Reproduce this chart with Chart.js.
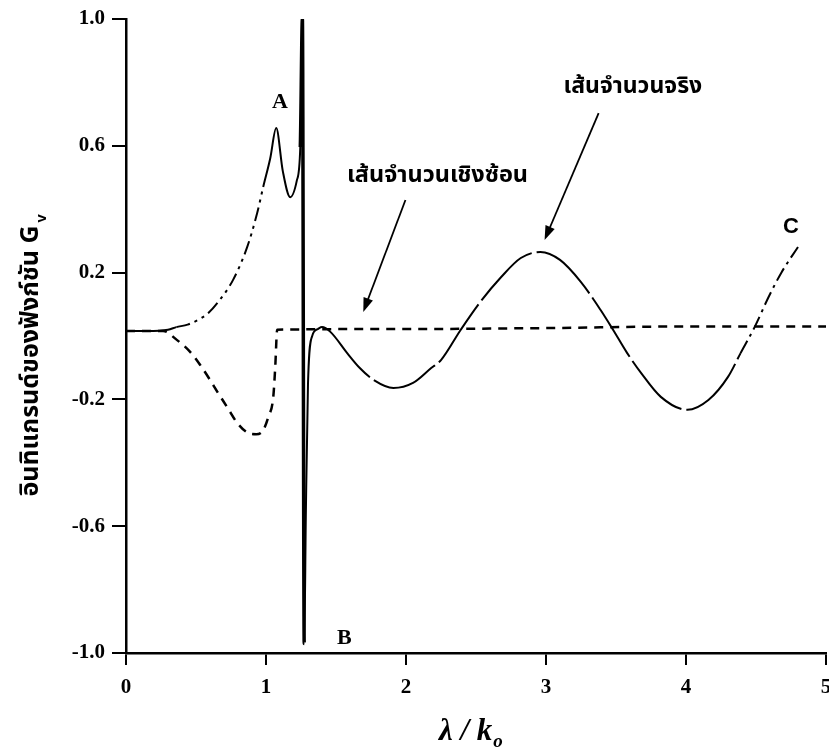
<!DOCTYPE html>
<html>
<head>
<meta charset="utf-8">
<script src="https://cdn.jsdelivr.net/npm/chart.js@4.4.1/dist/chart.umd.min.js"></script>
<style>
  html, body { margin: 0; padding: 0; background: #fff; }
  #wrap { width: 829px; height: 751px; }
</style>
</head>
<body>
<div id="wrap"><canvas id="myChart" width="829" height="751"></canvas></div>
<script>
// ---- data ----
const realX = [0, 0.15, 0.30, 0.36, 0.44, 0.52, 0.59, 0.67, 0.765, 0.866, 0.937, 0.98, 1.03, 1.073, 1.12, 1.173, 1.22, 1.245, 1.26, 1.273, 1.285, 1.30, 1.33, 1.37, 1.40, 1.46, 1.58, 1.67, 1.77, 1.91, 2.05, 2.18, 2.25, 2.39, 2.53, 2.68, 2.82, 2.96, 3.10, 3.25, 3.39, 3.48, 3.58, 3.68, 3.82, 4.01, 4.16, 4.30, 4.39, 4.49, 4.59, 4.68, 4.80];
const realY = [0.016, 0.016, 0.02, 0.028, 0.036, 0.052, 0.073, 0.114, 0.177, 0.281, 0.388, 0.47, 0.56, 0.656, 0.52, 0.438, 0.49, 0.596, 1.0, -0.97, -0.55, -0.15, 0.0, 0.022, 0.028, 0.013, -0.054, -0.101, -0.139, -0.164, -0.148, -0.101, -0.076, 0.019, 0.107, 0.186, 0.246, 0.265, 0.24, 0.17, 0.082, 0.019, -0.054, -0.117, -0.192, -0.233, -0.202, -0.129, -0.054, 0.028, 0.123, 0.199, 0.281];

const imagX = [0, 0.265, 0.365, 0.458, 0.529, 0.601, 0.658, 0.722, 0.794, 0.873, 0.93, 0.98, 1.016, 1.052, 1.066, 1.08, 2.0, 3.0, 4.0, 5.0];
const imagY = [0.016, 0.016, -0.013, -0.05, -0.091, -0.139, -0.18, -0.224, -0.274, -0.306, -0.31, -0.297, -0.256, -0.192, -0.098, 0.02, 0.022, 0.025, 0.03, 0.03];

const xTicks = [0, 1, 2, 3, 4, 5];
const yTicks = [-1.0, -0.6, -0.2, 0.2, 0.6, 1.0];

const realLabel = 'เส้นจำนวนจริง';
const imagLabel = 'เส้นจำนวนเชิงซ้อน';
const yTitle = 'อินทิแกรนด์ของฟังก์ชัน G';

const thaiFont = '"Noto Sans Thai", "Noto Sans", sans-serif';

// text + arrows, placed in data units
const notes = [
  { text: 'A', x: 1.10, y: 0.738, font: 'bold 22px "Liberation Serif", serif' },
  { text: 'B', x: 1.56, y: -0.953, font: 'bold 22px "Liberation Serif", serif' },
  { text: 'C', x: 4.75, y: 0.344, font: 'bold 22px "Liberation Sans", sans-serif' },
  { text: realLabel, x: 3.62, y: 0.782, font: 'bold 23px ' + thaiFont },
  { text: imagLabel, x: 2.225, y: 0.502, font: 'bold 23.5px ' + thaiFont }
];
const arrows = [
  { x0: 3.376, y0: 0.703, x1: 2.99, y1: 0.303 },
  { x0: 1.996, y0: 0.429, x1: 1.695, y1: 0.076 }
];

function toPoints(xs, ys) {
  return xs.map(function (x, i) { return { x: x, y: ys[i] }; });
}

// real curve: dash-dot on the rising parts, thick on the spike
function realDash(ctx) {
  const a = ctx.p0.parsed.x;
  if (a >= 0.33 && a < 0.98) return [14, 5, 3, 5, 3, 5];
  if (a >= 4.35) return [14, 5, 3, 5];
  if (a >= 1.40 && a < 4.35) return [70, 5];
  return [];
}
function realWidth(ctx) {
  const a = ctx.p0.parsed.x;
  if (a >= 1.245 && a < 1.273) return 3.5;
  return 2;
}

const notesPlugin = {
  id: 'notes',
  afterDraw(chart) {
    const c = chart.ctx, xs = chart.scales.x, ys = chart.scales.y;
    c.save();
    c.fillStyle = '#000';
    c.strokeStyle = '#000';
    c.textAlign = 'center';
    c.textBaseline = 'middle';
    notes.forEach(function (n) {
      c.font = n.font;
      c.fillText(n.text, xs.getPixelForValue(n.x), ys.getPixelForValue(n.y));
    });
    arrows.forEach(function (a) {
      const x0 = xs.getPixelForValue(a.x0), y0 = ys.getPixelForValue(a.y0);
      const x1 = xs.getPixelForValue(a.x1), y1 = ys.getPixelForValue(a.y1);
      const ang = Math.atan2(y1 - y0, x1 - x0);
      c.lineWidth = 1.8;
      c.beginPath();
      c.moveTo(x0, y0);
      c.lineTo(x1 - 10 * Math.cos(ang), y1 - 10 * Math.sin(ang));
      c.stroke();
      c.beginPath();
      c.moveTo(x1, y1);
      c.lineTo(x1 - 14 * Math.cos(ang) + 5 * Math.sin(ang), y1 - 14 * Math.sin(ang) - 5 * Math.cos(ang));
      c.lineTo(x1 - 14 * Math.cos(ang) - 5 * Math.sin(ang), y1 - 14 * Math.sin(ang) + 5 * Math.cos(ang));
      c.closePath();
      c.fill();
    });

    // y title (rotated) with subscript v
    c.save();
    c.translate(33, 355);
    c.rotate(-Math.PI / 2);
    c.font = 'bold 25px ' + thaiFont;
    c.textAlign = 'center';
    const w = c.measureText(yTitle).width;
    c.fillText(yTitle, -6, 0);
    c.font = 'bold 15px "Liberation Sans", sans-serif';
    c.fillText('v', -6 + w / 2 + 7, 9);
    c.restore();

    // x title: λ / k with subscript o
    c.font = 'italic bold 31px "Liberation Serif", serif';
    c.textAlign = 'left';
    c.textBaseline = 'alphabetic';
    const w2 = c.measureText('λ / k').width;
    c.fillText('λ / k', 439, 740);
    c.font = 'italic bold 19px "Liberation Serif", serif';
    c.fillText('o', 439 + w2 + 1, 747);
    c.restore();
  }
};

new Chart(document.getElementById('myChart'), {
  type: 'line',
  data: {
    datasets: [
      {
        label: realLabel,
        data: toPoints(realX, realY),
        borderColor: '#000',
        borderWidth: 2,
        pointRadius: 0,
        cubicInterpolationMode: 'monotone',
        segment: { borderDash: realDash, borderWidth: realWidth }
      },
      {
        label: imagLabel,
        data: toPoints(imagX, imagY),
        borderColor: '#000',
        borderWidth: 2.5,
        borderDash: [9, 7],
        pointRadius: 0,
        cubicInterpolationMode: 'monotone'
      }
    ]
  },
  options: {
    responsive: false,
    animation: false,
    devicePixelRatio: 1,
    layout: { padding: { top: 19, right: 3, left: 0, bottom: 0 } },
    plugins: { legend: { display: false }, tooltip: { enabled: false } },
    scales: {
      x: {
        type: 'linear', min: 0, max: 5,
        afterBuildTicks: function (s) { s.ticks = xTicks.map(function (v) { return { value: v }; }); },
        afterFit: function (s) { s.height = 98; s.paddingRight = 0; s.paddingLeft = 0; },
        ticks: { color: '#000', padding: 10, maxRotation: 0, font: { family: '"Liberation Serif", serif', size: 21, weight: 'bold' } },
        grid: { drawOnChartArea: false, drawTicks: true, tickLength: 12, color: '#000', lineWidth: 2 },
        border: { display: true, color: '#000', width: 2.5 }
      },
      y: {
        type: 'linear', min: -1, max: 1,
        afterBuildTicks: function (s) { s.ticks = yTicks.map(function (v) { return { value: v }; }); },
        afterFit: function (s) { s.width = 126; s.paddingTop = 0; s.paddingBottom = 0; },
        ticks: { color: '#000', padding: 7, font: { family: '"Liberation Serif", serif', size: 21, weight: 'bold' },
          callback: function (v) { return v.toFixed(1); } },
        grid: { drawOnChartArea: false, drawTicks: true, tickLength: 14, color: '#000', lineWidth: 2 },
        border: { display: true, color: '#000', width: 2.5 }
      }
    }
  },
  plugins: [notesPlugin]
});
</script>
</body>
</html>
